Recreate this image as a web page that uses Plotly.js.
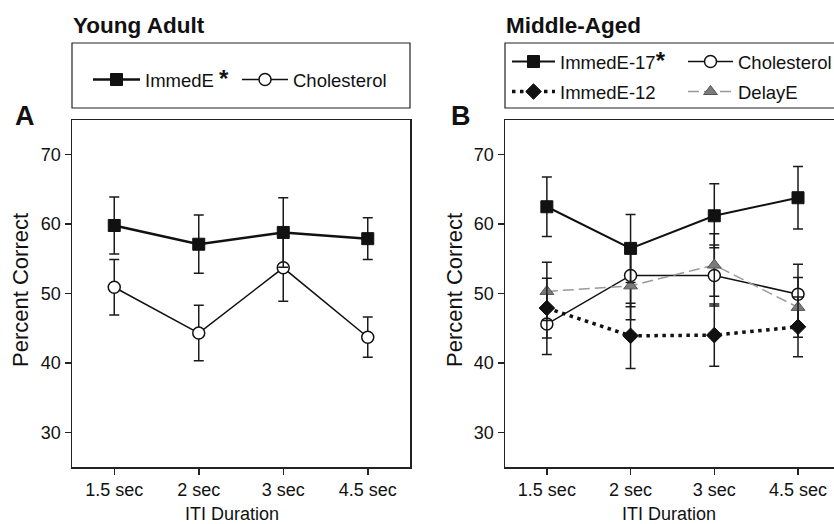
<!DOCTYPE html>
<html>
<head>
<meta charset="utf-8">
<script src="https://cdn.plot.ly/plotly-3.0.1.min.js"></script>
<style>html,body{margin:0;padding:0;background:#fff;}#chart{width:834px;height:524px;}</style>
</head>
<body>
<div id="chart"></div>
<script>
// ---- data ----
const categories = ['1.5 sec', '2 sec', '3 sec', '4.5 sec'];
const yTicks = [30, 40, 50, 60, 70];

// Panel A: Young Adult
const youngImmedE = [59.8, 57.1, 58.8, 57.9];
const youngImmedEErr = [4.1, 4.2, 5.0, 3.0];
const youngChol = [50.9, 44.3, 53.7, 43.7];
const youngCholErr = [4.0, 4.0, 4.8, 2.9];

// Panel B: Middle-Aged
const midImmedE17 = [62.5, 56.5, 61.2, 63.8];
const midImmedE17Err = [4.3, 4.9, 4.6, 4.5];
const midChol = [45.6, 52.6, 52.6, 49.9];
const midCholErr = [4.4, 4.5, 4.4, 4.3];
const midImmedE12 = [47.9, 43.9, 44.0, 45.2];
const midImmedE12Err = [4.3, 4.7, 4.5, 4.3];
const midDelayE = [50.3, 51.1, 54.1, 48.0];
const midDelayEErr = [4.2, 4.9, 4.5, 4.3];

// ---- helpers ----
const W = 834, H = 524;
const px = v => v / W;
const py = v => (H - v) / H;
const FONT = 'Liberation Sans, Arial, Helvetica, sans-serif';
const STAR = '<span style="font-size:24px;font-weight:bold">*</span>';

function err(arr) {
  return {type: 'data', array: arr, visible: true, color: '#1a1a1a', thickness: 1.5, width: 5};
}

const traces = [
  // Panel A
  {x: categories, y: youngChol, error_y: err(youngCholErr), name: 'Cholesterol',
   xaxis: 'x', yaxis: 'y', legend: 'legend2', mode: 'lines+markers',
   line: {color: '#111', width: 1.5},
   marker: {symbol: 'circle', size: 12, color: '#fff', line: {color: '#111', width: 1.5}}},
  {x: categories, y: youngImmedE, error_y: err(youngImmedEErr), name: 'ImmedE ' + STAR,
   xaxis: 'x', yaxis: 'y', legend: 'legend', mode: 'lines+markers',
   line: {color: '#111', width: 2.5},
   marker: {symbol: 'square', size: 12, color: '#111', line: {color: '#111', width: 1}}},
  // Panel B
  {x: categories, y: midChol, error_y: err(midCholErr), name: 'Cholesterol',
   xaxis: 'x2', yaxis: 'y2', legend: 'legend4', mode: 'lines+markers',
   line: {color: '#111', width: 1.5},
   marker: {symbol: 'circle', size: 12, color: '#fff', line: {color: '#111', width: 1.5}}},
  {x: categories, y: midDelayE, error_y: err(midDelayEErr), name: 'DelayE',
   xaxis: 'x2', yaxis: 'y2', legend: 'legend6', mode: 'lines+markers',
   line: {color: '#9a9a9a', width: 1.5, dash: '11px,5px'},
   marker: {symbol: 'triangle-up', size: 12, color: '#7a7a7a', line: {color: '#555', width: 1}}},
  {x: categories, y: midImmedE12, error_y: err(midImmedE12Err), name: 'ImmedE-12',
   xaxis: 'x2', yaxis: 'y2', legend: 'legend5', mode: 'lines+markers',
   line: {color: '#111', width: 3.5, dash: '3.5px,4.5px'},
   marker: {symbol: 'diamond', size: 12, color: '#111', line: {color: '#111', width: 1}}},
  {x: categories, y: midImmedE17, error_y: err(midImmedE17Err), name: 'ImmedE-17' + STAR,
   xaxis: 'x2', yaxis: 'y2', legend: 'legend3', mode: 'lines+markers',
   line: {color: '#111', width: 2},
   marker: {symbol: 'square', size: 12, color: '#111', line: {color: '#111', width: 1}}}
];

const axisCommon = {
  type: 'category', showgrid: false, zeroline: false, showline: true,
  linecolor: '#222', linewidth: 1.5, ticks: 'outside', ticklen: 6, tickwidth: 1.5, tickcolor: '#222',
  tickfont: {family: FONT, size: 18, color: '#111'}, fixedrange: true
};
const yCommon = {
  range: [25, 75], tickvals: yTicks, ticktext: yTicks.map(String), showgrid: false, zeroline: false,
  showline: true, linecolor: '#222', linewidth: 1.5, ticks: 'outside', ticklen: 6, tickwidth: 1.5,
  tickcolor: '#222', tickfont: {family: FONT, size: 18, color: '#111'}, fixedrange: true
};

function legendAt(xPx, yPx, iw) {
  return {
    x: px(xPx), y: py(yPx), xanchor: 'left', yanchor: 'middle', orientation: 'h',
    bgcolor: 'rgba(0,0,0,0)', borderwidth: 0, itemwidth: iw,
    font: {family: FONT, size: 18.5, color: '#111'}, tracegroupgap: 0, itemclick: false, itemdoubleclick: false
  };
}

const yDom = [py(467), py(120)];

const layout = {
  width: W, height: H,
  margin: {l: 0, r: 0, t: 0, b: 0, autoexpand: false},
  paper_bgcolor: '#fff', plot_bgcolor: '#fff',
  showlegend: true,
  xaxis: Object.assign({}, axisCommon, {domain: [px(72), px(410)], range: [-0.5, 3.5], mirror: true, anchor: 'y'}),
  yaxis: Object.assign({}, yCommon, {domain: yDom, mirror: true, anchor: 'x'}),
  xaxis2: Object.assign({}, axisCommon, {domain: [px(505), 1], range: [-0.5, 3.43], mirror: true, anchor: 'y2'}),
  yaxis2: Object.assign({}, yCommon, {domain: yDom, mirror: false, anchor: 'x2'}),
  legend: legendAt(88, 80, 47),
  legend2: legendAt(237, 80, 46),
  legend3: legendAt(507, 62, 43),
  legend4: legendAt(683, 62, 45),
  legend5: legendAt(507, 92, 43),
  legend6: legendAt(683, 92, 45),
  shapes: [
    {type: 'rect', xref: 'paper', yref: 'paper', x0: px(72), x1: px(410), y0: py(108), y1: py(43),
     line: {color: '#222', width: 1.2}, fillcolor: 'rgba(0,0,0,0)'},
    {type: 'rect', xref: 'paper', yref: 'paper', x0: px(505), x1: px(840), y0: py(108), y1: py(43),
     line: {color: '#222', width: 1.2}, fillcolor: 'rgba(0,0,0,0)'}
  ],
  annotations: [
    {text: '<b>Young Adult</b>', x: px(71), y: py(25), xref: 'paper', yref: 'paper', xanchor: 'left', yanchor: 'middle',
     showarrow: false, font: {family: FONT, size: 22.5, color: '#111'}},
    {text: '<b>Middle-Aged</b>', x: px(504), y: py(25), xref: 'paper', yref: 'paper', xanchor: 'left', yanchor: 'middle',
     showarrow: false, font: {family: FONT, size: 22.5, color: '#111'}},
    {text: '<b>A</b>', x: px(13), y: py(116), xref: 'paper', yref: 'paper', xanchor: 'left', yanchor: 'middle',
     showarrow: false, font: {family: FONT, size: 27, color: '#111'}},
    {text: '<b>B</b>', x: px(449), y: py(116), xref: 'paper', yref: 'paper', xanchor: 'left', yanchor: 'middle',
     showarrow: false, font: {family: FONT, size: 27, color: '#111'}},
    {text: 'Percent Correct', x: px(20), y: py(290), xref: 'paper', yref: 'paper', xanchor: 'center', yanchor: 'middle',
     textangle: -90, showarrow: false, font: {family: FONT, size: 22, color: '#111'}},
    {text: 'Percent Correct', x: px(454), y: py(290), xref: 'paper', yref: 'paper', xanchor: 'center', yanchor: 'middle',
     textangle: -90, showarrow: false, font: {family: FONT, size: 22, color: '#111'}},
    {text: 'ITI Duration', x: px(232), y: py(514), xref: 'paper', yref: 'paper', xanchor: 'center', yanchor: 'middle',
     showarrow: false, font: {family: FONT, size: 18, color: '#111'}},
    {text: 'ITI Duration', x: px(669), y: py(514), xref: 'paper', yref: 'paper', xanchor: 'center', yanchor: 'middle',
     showarrow: false, font: {family: FONT, size: 18, color: '#111'}}
  ]
};

Plotly.newPlot('chart', traces, layout, {displayModeBar: false, staticPlot: true});
</script>
</body>
</html>
